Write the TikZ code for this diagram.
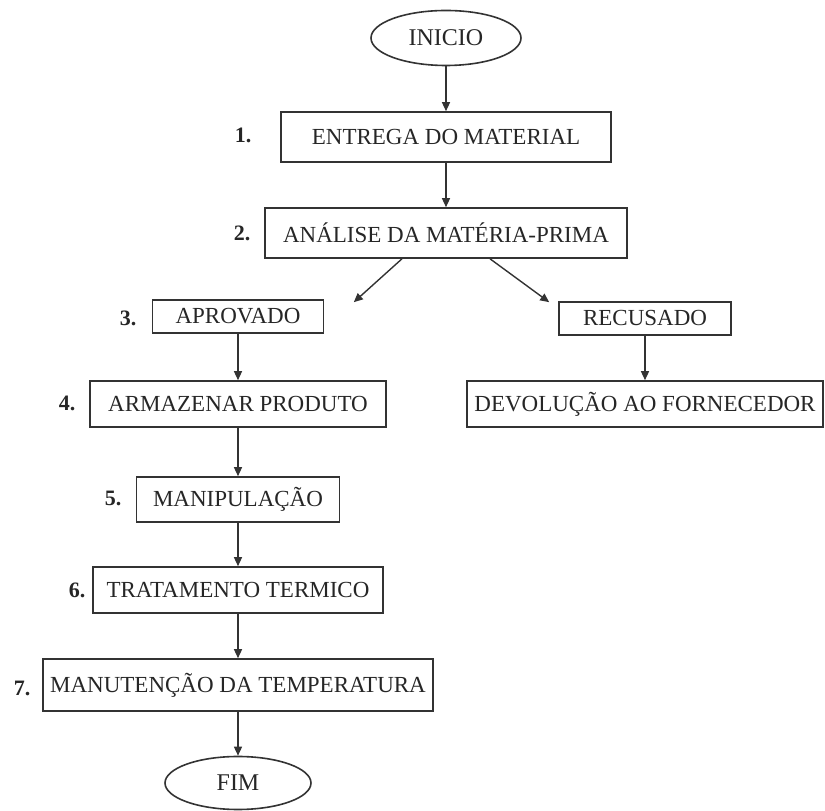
\documentclass[tikz,border=0pt]{standalone}
\usepackage{fontspec}
\setmainfont{Liberation Serif}
\usetikzlibrary{arrows.meta, positioning, shapes.geometric, calc}
\definecolor{cline}{HTML}{333333}
\definecolor{ctext}{HTML}{262626}
\tikzset{
  every picture/.style={line width=1.6pt},
  box/.style={draw=cline, rectangle, inner sep=0pt, text=ctext, font=\fontsize{23}{25}\selectfont, minimum width=#1},
  box/.default=200pt,
  term/.style={draw=cline, ellipse, inner sep=0pt, text=ctext, font=\fontsize{24}{26}\selectfont},
  arrow/.style={-{Triangle[length=9pt, width=8pt]}, draw=cline, line width=1.4pt},
  num/.style={font=\fontsize{22}{24}\selectfont\bfseries, text=ctext},
}

\begin{document}
\begin{tikzpicture}[x=1pt, y=1pt]
  \useasboundingbox (0,0) rectangle (825,811);
  % main column
  \node[term, minimum width=150pt, minimum height=55pt] (ini) at (446,773) {INICIO};
  \node[box=330pt, minimum height=50pt] (entrega) at (446,674) {ENTREGA DO MATERIAL};
  \node[box=362pt, minimum height=50pt] (analise) at (446,578) {ANÁLISE DA MATÉRIA-PRIMA};
  % left branch
  \node[box=171pt, minimum height=33pt] (aprov) at (238,494.5) {APROVADO};
  \node[box=296pt, minimum height=46pt] (armaz) at (238,407) {ARMAZENAR PRODUTO};
  \node[box=203pt, minimum height=45pt] (manip) at (238,311.5) {MANIPULAÇÃO};
  \node[box=290pt, minimum height=46pt] (trat) at (238,221) {TRATAMENTO TERMICO};
  \node[box=390pt, minimum height=52pt] (manut) at (238,126) {MANUTENÇÃO DA TEMPERATURA};
  \node[term, minimum width=146pt, minimum height=53pt] (fim) at (238,28) {FIM};
  % right branch
  \node[box=172pt, minimum height=33pt] (recus) at (645,492.5) {RECUSADO};
  \node[box=356pt, minimum height=46pt] (devol) at (645,407) {DEVOLUÇÃO AO FORNECEDOR};
  % step numbers
  \node[num] (n1) at (243,676) {1.};
  \node[num] (n2) at (242,578) {2.};
  \node[num] (n3) at (128,493) {3.};
  \node[num] (n4) at (67,408) {4.};
  \node[num] (n5) at (113,313) {5.};
  \node[num] (n6) at (77,221) {6.};
  \node[num] (n7) at (22,123) {7.};
  % arrows
  \foreach \a/\b in {ini/entrega, entrega/analise, aprov/armaz, armaz/manip, manip/trat, trat/manut, manut/fim, recus/devol}
    \draw[arrow] (\a) -- (\b);
  \draw[arrow] ($(analise.south)+(-44,0)$) -- ($(aprov.north east)+(29.5,-3)$);
  \draw[arrow] ($(analise.south)+(44,0)$) -- ($(recus.north west)+(-9,-1)$);
\end{tikzpicture}
\end{document}
